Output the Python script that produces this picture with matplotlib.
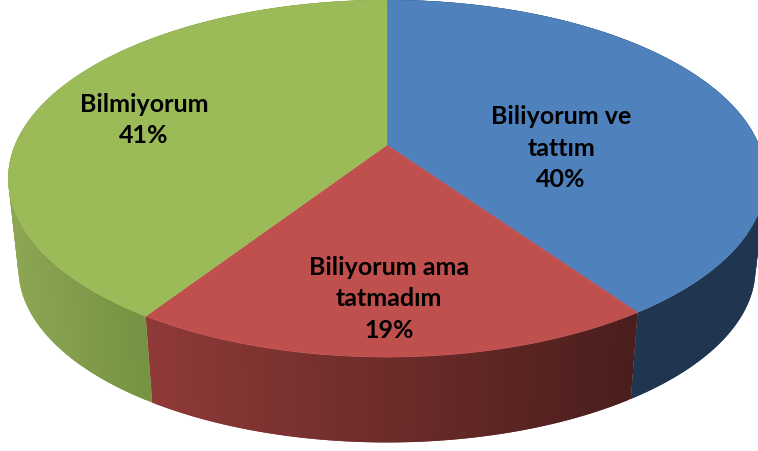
import numpy as np
import matplotlib
matplotlib.use('Agg')
import matplotlib.pyplot as plt

# Slices, clockwise from 12 o'clock
labels = ['Biliyorum ve\ntattım\n40%', 'Biliyorum ama\ntatmadım\n19%', 'Bilmiyorum\n41%']
values = [40.35, 18.85, 40.8]
top_colors = ['#4F81BD', '#C0504D', '#9BBB59']
side_left = ['#1F3550', '#8F3A38', '#8CA653']
side_right = ['#1F3550', '#4A1E1C', '#769343']
label_pos = [(561, 148), (389, 299), (144, 120)]

# Fake 3D projection, in pixels
CX, CY = 387, 145
A, B, K = 372, 145, 0.188
SHRINK, DEPTH = 0.973, 91


def project(theta):
    u, v = np.sin(theta), np.cos(theta)
    w = 1 + K * v
    return A * u / w, B * (1 - v) / w - CY


def mix(c1, c2, t):
    a = np.array(matplotlib.colors.to_rgb(c1))
    b = np.array(matplotlib.colors.to_rgb(c2))
    return a + (b - a) * t


fig = plt.figure(figsize=(7.58, 4.51), dpi=100)
ax = fig.add_axes([0, 0, 1, 1])
ax.set_xlim(0, 758)
ax.set_ylim(451, 0)
ax.axis('off')

edges = np.cumsum([0] + values) / sum(values) * 2 * np.pi

# side wall first, top faces get painted over it
for i in range(len(values)):
    th = np.linspace(edges[i], edges[i + 1], 121)
    x, y = project(th)
    xt, yt = CX + x, CY + y
    xb, yb = CX + x * SHRINK, CY + y * SHRINK + DEPTH
    lo, hi = xt.min(), xt.max()
    if i == 2:
        # only the front part of the green slice shows
        hi = xt[0]
    for j in range(len(th) - 1):
        t = np.clip((xt[j] - lo) / (hi - lo), 0, 1)
        col = mix(side_left[i], side_right[i], t)
        # overlap the next quad a bit so no seams show
        k = min(j + 2, len(th) - 1)
        ax.fill(np.r_[xt[j:k + 1], xb[j:k + 1][::-1]],
                np.r_[yt[j:k + 1], yb[j:k + 1][::-1]],
                color=col, lw=0, zorder=1)

for i in range(len(values)):
    th = np.linspace(edges[i], edges[i + 1], 200)
    x, y = project(th)
    ax.fill(np.r_[CX, CX + x], np.r_[CY, CY + y], color=top_colors[i], lw=0.3, zorder=2)

for lab, (lx, ly) in zip(labels, label_pos):
    ax.text(lx, ly, lab, ha='center', va='center', family='Lato', weight='bold',
            fontsize=18, color='black', linespacing=1.47, zorder=3)

fig.savefig('out.png', dpi=100)
